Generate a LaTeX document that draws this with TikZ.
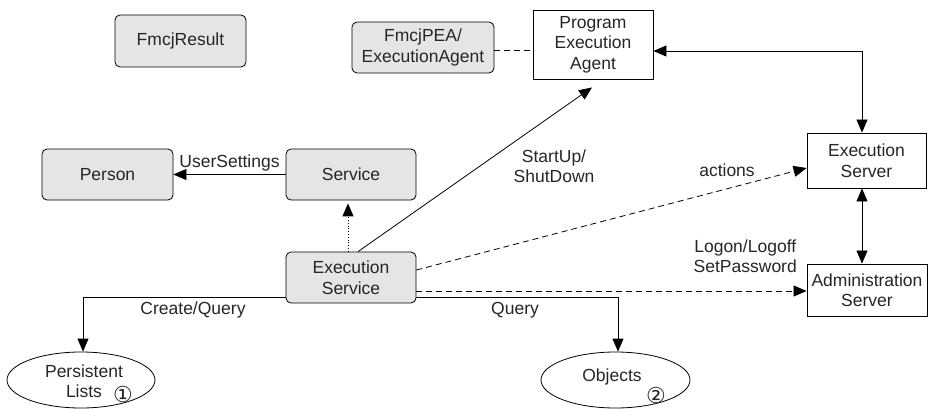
\documentclass[tikz,border=0pt]{standalone}
\usepackage{fontspec}
\setmainfont{Liberation Sans}
\newfontfamily\dvs{DejaVu Sans}
\usetikzlibrary{arrows.meta,shapes.geometric,calc}
\begin{document}
\begin{tikzpicture}[x=1pt,y=-1pt,
  every node/.style={font=\fontsize{17.5}{20.5}\selectfont, text=black!85, align=center, inner sep=0pt},
  gbox/.style={draw, rounded corners=5pt, fill=black!10, line width=0.8pt},
  wbox/.style={draw, fill=white, line width=0.9pt},
  ell/.style={draw, ellipse, line width=0.8pt},
  conn/.style={line width=0.8pt, -{Triangle[length=13pt,width=11pt]}},
  biconn/.style={line width=0.8pt, {Triangle[length=13pt,width=11pt]}-{Triangle[length=13pt,width=11pt]}},
  dsh/.style={dashed, dash pattern=on 6pt off 4pt},
  circnum/.style={font=\dvs\fontsize{22}{24}\selectfont}
]
\useasboundingbox (0,0) rectangle (928,409);

\node[gbox, minimum width=131pt, minimum height=52pt] (res) at (180.5,41) {FmcjResult};
\node[gbox, minimum width=142pt, minimum height=51pt] (fpea) at (423,47.5) {FmcjPEA/\\ExecutionAgent};
\node[wbox, minimum width=120pt, minimum height=69pt] (pea) at (593,44.5) {Program\\Execution\\Agent};
\node[gbox, minimum width=131pt, minimum height=51pt] (person) at (107.5,174.5) {Person};
\node[gbox, minimum width=130pt, minimum height=51pt] (service) at (351,174.5) {Service};
\node[gbox, minimum width=130pt, minimum height=51pt] (es) at (351,277.5) {Execution\\Service};
\node[wbox, minimum width=119pt, minimum height=55pt] (exs) at (866.5,160.5) {Execution\\Server};
\node[wbox, minimum width=120pt, minimum height=52pt] (adm) at (867,290) {Administration\\Server};
\node[ell, minimum width=148pt, minimum height=56pt] (plist) at (81,380) {};
\node (plistt) at (84,381) {Persistent\\Lists};
\node[circnum] (c1) at (123,394) {①};
\node[ell, minimum width=149pt, minimum height=56pt] (obj) at (615.5,380) {};
\node (objt) at (612,377) {Objects};
\node[circnum] (c2) at (656,395) {②};

% connectors
\draw[line width=0.8pt, dsh] ([yshift=-3pt]fpea.east) -- ([yshift=-3pt]fpea.east -| pea.west);
\draw[conn] (service.west) -- node[above=3pt] (us) {UserSettings} (person.east);
\draw[conn, dotted, line width=1pt] ([xshift=-3pt]es.north) -- ([xshift=-3pt,yshift=-3pt]service.south);
\draw[conn] ([xshift=7pt]es.north) -- ($(pea.south)+(-1,8)$);
\node (su) at (554,166) {StartUp/\\ShutDown};
\draw[biconn] ([yshift=-6.5pt]pea.east) -| ([xshift=-4.5pt]exs.north);
\draw[biconn] ([xshift=-4.5pt]exs.south) -- ([xshift=-5pt]adm.north);
\draw[conn, dsh] ([yshift=7.5pt]es.east) -- ([yshift=-7.5pt]exs.west);
\node (act) at (727,170) {actions};
\draw[conn, dsh] ([yshift=-13.5pt]es.east) -- ([yshift=-13.5pt]es.east -| adm.west);
\node[anchor=east] (logon) at (797,256) {Logon/Logoff\\SetPassword};
\draw[conn] ([yshift=-19.5pt]es.west) -| ([xshift=2pt]plist.north);
\node (cq) at (193,310) {Create/Query};
\draw[conn] ([yshift=-19.5pt]es.east) -| ([xshift=2.5pt]obj.north);
\node (q) at (515,310) {Query};
\end{tikzpicture}
\end{document}
